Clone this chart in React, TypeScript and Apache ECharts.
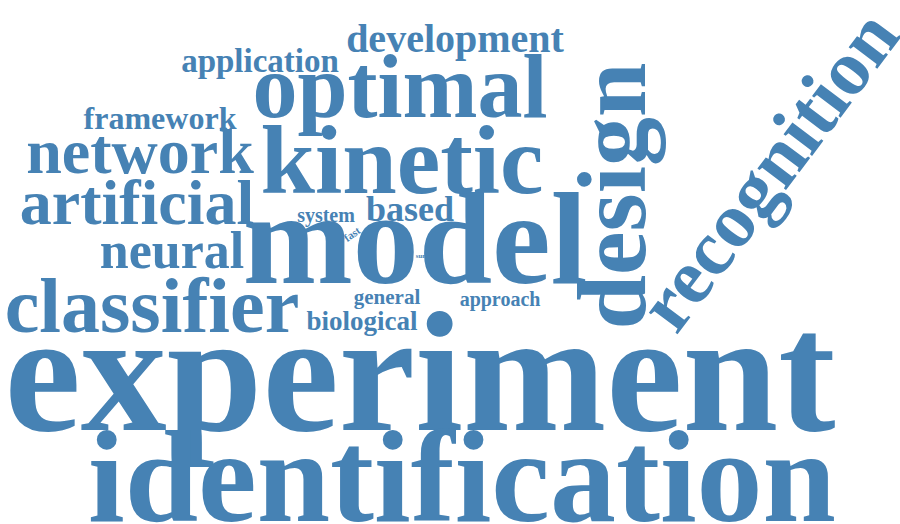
import * as echarts from "echarts";
import { useEffect, useRef } from "react";

// words and their weights (font size)
const words = [
  "experiment", "identification", "model", "design", "recognition", "kinetic",
  "optimal", "classifier", "artificial", "network", "neural", "development",
  "application", "framework", "based", "system", "fast", "sun", "general",
  "approach", "biological",
];
const sizes = [172, 132, 132, 98, 78, 98, 90, 78, 64, 64, 52, 40, 33, 32, 36, 20, 11, 7, 21, 20, 27];

// layout: centre of each word and its rotation in degrees
const posX = [420, 462, 415, 612, 768, 402, 400, 152, 137, 140, 172, 455, 260, 160, 410, 326, 352, 421, 387, 500, 362];
const posY = [372, 476, 238, 196, 170, 160, 86, 305, 202, 151, 250, 38, 61, 118, 209, 215, 234, 256, 297, 299, 321];
const rotations = [0, 0, 0, 90, 53, 0, 0, 0, 0, 0, 0, 0, 0, 0, 0, 0, 35, 0, 0, 0, 0];

export default function App() {
  const ref = useRef<HTMLDivElement>(null);

  useEffect(() => {
    document.body.style.margin = "0";
    const chart = echarts.init(ref.current!, null, { renderer: "svg" });
    chart.setOption({
      animation: false,
      grid: { left: 0, right: 0, top: 0, bottom: 0 },
      xAxis: { type: "value", min: 0, max: 900, show: false },
      yAxis: { type: "value", min: 0, max: 524, inverse: true, show: false },
      series: [
        {
          type: "custom",
          data: words.map((w, i) => [posX[i], posY[i], sizes[i], rotations[i], w]),
          renderItem: (_params: any, api: any) => {
            const p = api.coord([api.value(0), api.value(1)]);
            return {
              type: "text",
              x: p[0],
              y: p[1],
              rotation: (api.value(3) * Math.PI) / 180,
              style: {
                text: String(api.value(4)),
                fontSize: api.value(2),
                fontFamily: "Liberation Serif",
                fontWeight: "bold",
                fill: "#4682b4",
                align: "center",
                verticalAlign: "middle",
              },
            };
          },
        },
      ],
    });
    return () => chart.dispose();
  }, []);

  return <div ref={ref} style={{ width: 900, height: 524 }} />;
}
